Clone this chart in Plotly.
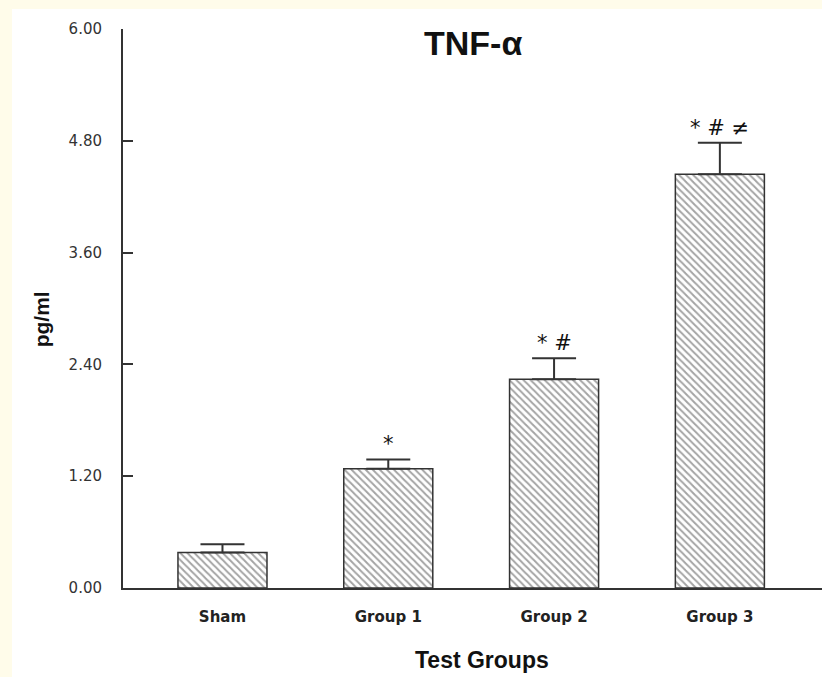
import plotly.graph_objects as go

categories = ["Sham", "Group 1", "Group 2", "Group 3"]
values = [0.38, 1.28, 2.24, 4.44]
errors = [0.09, 0.10, 0.225, 0.34]
marks = ["", "*", "* #", "* # \u2260"]
y_ticks = [0.0, 1.2, 2.4, 3.6, 4.8, 6.0]

fig = go.Figure()
fig.add_trace(go.Bar(
    x=categories, y=values, width=0.537,
    marker=dict(color="white",
                line=dict(color="#333333", width=1.5),
                pattern=dict(shape="\\", size=5, solidity=0.4,
                             fgcolor="#4a4a4a", bgcolor="white")),
    error_y=dict(type="data", array=errors, arrayminus=[0]*4, symmetric=False,
                 color="#333333", thickness=2, width=22),
    showlegend=False,
))

for c, v, e, m in zip(categories, values, errors, marks):
    if m:
        fig.add_annotation(x=c, y=v + e, xref="x", yref="y", text=m,
                           showarrow=False, yanchor="bottom", yshift=1,
                           font=dict(family="DejaVu Sans", size=21, color="#111111"))

fig.add_annotation(text="<b>TNF-\u03b1</b>", x=0.5007, y=0.975, xref="paper", yref="paper",
                   showarrow=False, xanchor="center", yanchor="middle",
                   font=dict(family="Liberation Sans", size=34, color="#111111"))
fig.add_annotation(text="<b>Test Groups</b>", x=0.5136, y=-0.1288, xref="paper", yref="paper",
                   showarrow=False, xanchor="center", yanchor="middle",
                   font=dict(family="Liberation Sans", size=23, color="#111111"))
fig.add_annotation(text="<b>pg/ml</b>", x=-0.117, y=0.481, xref="paper", yref="paper",
                   showarrow=False, xanchor="center", yanchor="middle", textangle=-90,
                   font=dict(family="Liberation Sans", size=21, color="#111111"))

fig.add_shape(type="rect", xref="paper", yref="paper",
              x0=-0.1588, x1=1.05, y0=-0.17, y1=1.0358,
              fillcolor="white", line=dict(width=0), layer="below")

fig.update_layout(
    width=822, height=677,
    margin=dict(l=123, r=0, t=29, b=89),
    paper_bgcolor="#FFFCEA",
    plot_bgcolor="rgba(0,0,0,0)",
    xaxis=dict(range=[-0.6, 3.616], showline=True, linecolor="#333333", linewidth=2,
               ticks="", showgrid=False, zeroline=False, ticklabelstandoff=14,
               tickfont=dict(family="DejaVu Sans", size=15, color="#222222"),
               tickprefix="<b>", ticksuffix="</b>"),
    yaxis=dict(range=[0, 6.0], showline=True, linecolor="#333333", linewidth=2,
               ticks="inside", ticklen=10, tickwidth=2, tickcolor="#333333",
               tickvals=y_ticks, tickformat=".2f", showgrid=False, zeroline=False,
               ticklabelstandoff=16,
               tickfont=dict(family="DejaVu Sans", size=15, color="#333333")),
)

fig.write_html("out.html")
